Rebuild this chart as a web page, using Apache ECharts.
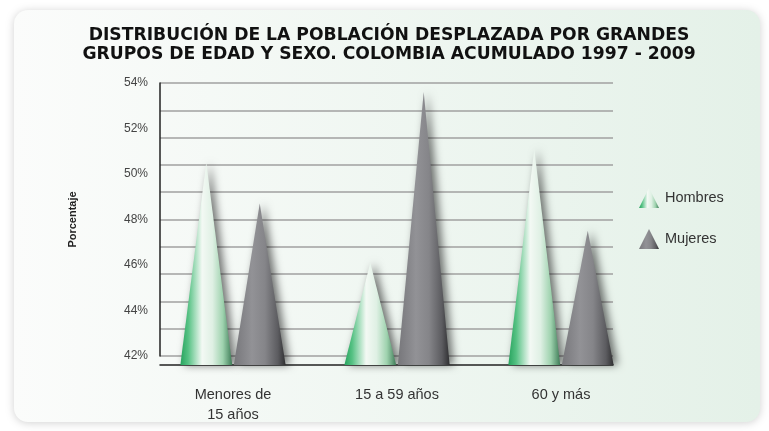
<!DOCTYPE html>
<html><head><meta charset="utf-8">
<script src="https://cdn.jsdelivr.net/npm/echarts@6/dist/echarts.min.js"></script>
<style>html,body{margin:0;padding:0;background:#fff}#c{width:769px;height:431px}</style>
</head><body><div id="c"></div>
<script>
const categories = ['Menores de\n15 años', '15 a 59 años', '60 y más'];
const hombres = [50.5, 46.1, 51.1];
const mujeres = [48.7, 53.6, 47.5];
const seriesNames = ['Hombres', 'Mujeres'];
const titleText = 'DISTRIBUCIÓN DE LA POBLACIÓN DESPLAZADA POR GRANDES\nGRUPOS DE EDAD Y SEXO. COLOMBIA ACUMULADO 1997 - 2009';
const yName = 'Porcentaje';

const BASE = 41.6;
const chart = echarts.init(document.getElementById('c'));
const cone = 'path://M0,100 L50,0 L100,100 Z';
const greenStops = [
  {offset: 0, color: '#27a35e'}, {offset: 0.15, color: '#55c183'},
  {offset: 0.42, color: '#f3f9f4'}, {offset: 0.62, color: '#dff0e4'},
  {offset: 0.82, color: '#9ed2ae'}, {offset: 1, color: '#3e7c57'}];
const grayStops = [
  {offset: 0, color: '#77777b'}, {offset: 0.35, color: '#929296'},
  {offset: 0.6, color: '#858589'}, {offset: 0.85, color: '#5c5c60'}, {offset: 1, color: '#2f2f31'}];

function coneSeries(name, values, side, stops) {
  return {
    name: name, type: 'custom', xAxisIndex: 1, yAxisIndex: 2,
    itemStyle: {color: new echarts.graphic.LinearGradient(0, 0, 1, 0, stops)},
    data: values.map((v, i) => [i, v]),
    renderItem: function (params, api) {
      const ci = api.value(0), v = api.value(1);
      const top = api.coord([ci, v]);
      const base = api.coord([ci, BASE]);
      const band = api.size([1, 0])[0];
      const cx = base[0] + side * band * 0.163;
      const hw = band * 0.158;
      return {
        type: 'polygon',
        shape: {points: [[cx - hw, base[1]], [cx, top[1]], [cx + hw, base[1]]]},
        style: {
          fill: new echarts.graphic.LinearGradient(0, 0, 1, 0, stops),
          shadowBlur: 8, shadowColor: 'rgba(0,0,0,0.55)', shadowOffsetX: 4
        }
      };
    }
  };
}

chart.setOption({
  animation: false,
  graphic: [{
    type: 'rect', z: -10, silent: true,
    shape: {x: 14, y: 10, width: 746, height: 412, r: 14},
    style: {
      fill: new echarts.graphic.LinearGradient(0, 0, 1, 0, [
        {offset: 0, color: '#fbfcfb'}, {offset: 1, color: '#e4f1e8'}]),
      shadowBlur: 8, shadowColor: 'rgba(0,0,0,0.18)', shadowOffsetY: 1
    }
  }],
  title: {
    text: titleText, left: 384, top: 21, textAlign: 'center',
    textStyle: {fontFamily: 'DejaVu Sans', fontWeight: 'bold', fontSize: 17.2, lineHeight: 19, color: '#111'}
  },
  legend: {
    data: seriesNames, orient: 'vertical', left: 634, top: 183,
    itemWidth: 22, itemHeight: 20, itemGap: 21, icon: cone,
    textStyle: {fontFamily: 'Liberation Sans', fontSize: 14.5, color: '#333'}
  },
  grid: [
    {left: 160, right: 156, top: 83, bottom: 75},
    {left: 151, right: 126, top: 83, bottom: 66}
  ],
  xAxis: [
    {type: 'category', gridIndex: 0, data: categories, offset: 9,
     axisLine: {show: true, lineStyle: {color: '#222', width: 1.5}},
     axisTick: {show: false}, axisLabel: {show: false}, splitLine: {show: false}},
    {type: 'category', gridIndex: 1, data: categories,
     axisLine: {show: false}, axisTick: {show: false},
     axisLabel: {fontFamily: 'Liberation Sans', fontSize: 14.5, color: '#333', lineHeight: 20, margin: 20}}
  ],
  yAxis: [
    {type: 'value', gridIndex: 0, min: 42, max: 54, interval: 2,
     name: yName, nameLocation: 'middle', nameRotate: 90, nameGap: 82,
     nameTextStyle: {fontFamily: 'Liberation Sans', fontWeight: 'bold', fontSize: 11, color: '#222'},
     axisLine: {show: true, lineStyle: {color: '#222', width: 1.5}},
     axisTick: {show: false}, splitLine: {show: false},
     axisLabel: {formatter: '{value}%', fontFamily: 'Liberation Sans', fontSize: 12, color: '#444', margin: 12}},
    {type: 'value', gridIndex: 0, min: 42, max: 54, interval: 1.2,
     axisLine: {show: false}, axisTick: {show: false}, axisLabel: {show: false},
     splitLine: {show: true, lineStyle: {color: '#a0a0a0', width: 1.5}}},
    {type: 'value', gridIndex: 1, min: BASE, max: 54, show: false, splitLine: {show: false}}
  ],
  series: [
    coneSeries(seriesNames[0], hombres, -1, greenStops),
    coneSeries(seriesNames[1], mujeres, 1, grayStops)
  ]
});
</script></body></html>
